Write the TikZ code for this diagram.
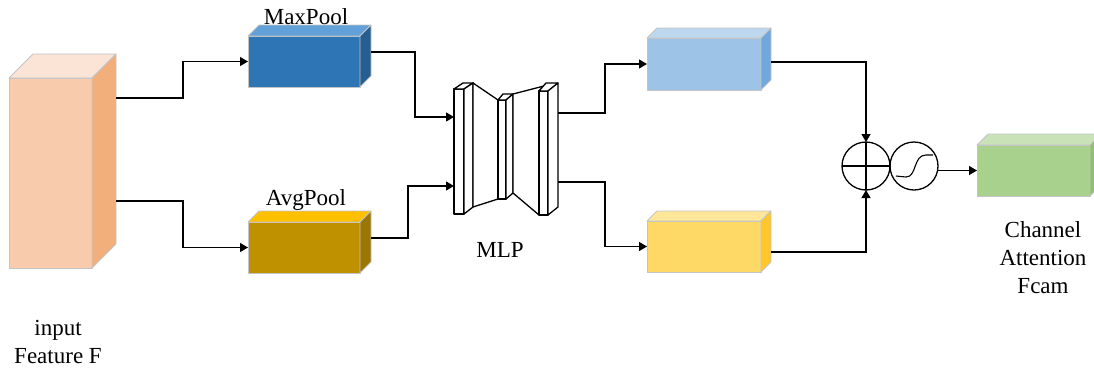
\documentclass[tikz,border=0pt]{standalone}
\usepackage{fontspec}
\setmainfont{Liberation Serif}
\usetikzlibrary{calc,arrows.meta}

\definecolor{inFront}{HTML}{F8CBAD}
\definecolor{inTop}{HTML}{FBE3D6}
\definecolor{inSide}{HTML}{F2AF7C}
\definecolor{mxFront}{HTML}{2E75B6}
\definecolor{mxTop}{HTML}{62A0D8}
\definecolor{mxSide}{HTML}{255E91}
\definecolor{avFront}{HTML}{BF9000}
\definecolor{avTop}{HTML}{FFC000}
\definecolor{avSide}{HTML}{9C7600}
\definecolor{buFront}{HTML}{9DC3E6}
\definecolor{buTop}{HTML}{BDD7EE}
\definecolor{buSide}{HTML}{70A7DC}
\definecolor{yeFront}{HTML}{FFD966}
\definecolor{yeTop}{HTML}{FFE699}
\definecolor{yeSide}{HTML}{FFC72C}
\definecolor{grFront}{HTML}{A9D18E}
\definecolor{grTop}{HTML}{C9E2B8}
\definecolor{grSide}{HTML}{8FC06F}
\definecolor{edge}{HTML}{C4C4C4}

\tikzset{
  face/.style={draw=edge, line width=0.9pt, line join=round},
  boxfront/.style={face, inner sep=0pt, outer sep=0pt},
  arr/.style={line width=1.3pt, -{Triangle[length=8pt,width=9pt]}},
  wire/.style={line width=1.3pt},
  slab/.style={draw=black, fill=white, line width=1.3pt, line join=round},
  lbl/.style={font=\fontsize{23}{28}\selectfont, inner sep=0pt, align=center},
}

% cuboid: name, centre x, centre y, width, height, depth, front, top, side
\newcommand\cuboid[9]{%
  \node[boxfront, fill=#7, minimum width=#4pt, minimum height=#5pt] (#1) at (#2,#3) {};
  \filldraw[face, fill=#8] (#1.north west) -- ++(#6,-#6) -- ($(#1.north east)+(#6,-#6)$) -- (#1.north east) -- cycle;
  \filldraw[face, fill=#9] (#1.north east) -- ++(#6,-#6) -- ($(#1.south east)+(#6,-#6)$) -- (#1.south east) -- cycle;
  \coordinate (#1-side) at ($(#1.east)+(#6,0)$);
}

\begin{document}
\begin{tikzpicture}[x=1pt,y=-1pt]
\useasboundingbox (0,0) rectangle (1094,373);

% feature cuboids
\cuboid{in}{50.5}{173}{83}{190}{24}{inFront}{inTop}{inSide}
\cuboid{mx}{304}{61.5}{112}{51}{11}{mxFront}{mxTop}{mxSide}
\cuboid{av}{304}{247.5}{112}{51}{11}{avFront}{avTop}{avSide}
\cuboid{bu}{704}{64}{114}{52}{10}{buFront}{buTop}{buSide}
\cuboid{ye}{704}{246.5}{114}{51}{10}{yeFront}{yeTop}{yeSide}
\cuboid{gr}{1033.5}{170.5}{113}{51}{11}{grFront}{grTop}{grSide}

% shared MLP
\node[slab, minimum width=10pt, minimum height=125pt, inner sep=0pt, outer sep=0pt] (m1) at (459,151.5) {};
\filldraw[slab] (454,89) -- (463,83) -- (473,83) -- (464,89) -- cycle;
\filldraw[slab] (464,89) -- (473,83) -- (473,207) -- (464,214) -- cycle;
\filldraw[slab] (473,83) -- (498,100) -- (498,199) -- (473,207) -- cycle;
\node[slab, minimum width=8pt, minimum height=99pt, inner sep=0pt, outer sep=0pt] (m2) at (502,149.5) {};
\filldraw[slab] (498,100) -- (503,94) -- (513,94) -- (506,100) -- cycle;
\filldraw[slab] (506,100) -- (513,94) -- (513,193) -- (506,199) -- cycle;
\filldraw[slab] (513,94) -- (544,86) -- (539,91) -- (539,215) -- (513,193) -- cycle;
\node[slab, minimum width=9pt, minimum height=124pt, inner sep=0pt, outer sep=0pt] (m3) at (543.5,153) {};
\filldraw[slab] (539,91) -- (546,83) -- (558,83) -- (548,91) -- cycle;
\filldraw[slab] (548,91) -- (558,83) -- (558,207) -- (548,215) -- cycle;
\coordinate (m3-side) at (558,153);

% add and sigmoid
\node[draw, circle, line width=1.3pt, minimum size=48pt, inner sep=0pt, outer sep=0pt] (add) at (866,166) {};
\node[draw, circle, line width=1.3pt, minimum size=48pt, inner sep=0pt, outer sep=0pt] (sig) at (914,166) {};
\draw[wire] (add.west) -- (add.east);
\draw[wire] (add.north) -- (add.south);
\draw[line width=1.1pt] (896,176) -- (906,177) .. controls (917,177) and (913,155) .. (926,155) -- (933,155);

% connectors
\draw[arr] (in-side |- 0,98) -- (183,98) |- (mx.west);
\draw[arr] (in-side |- 0,201) -- (183,201) |- (av.west);
\draw[arr] (mx-side |- 0,52) -- (415,52) |- (m1.west |- 0,117);
\draw[arr] (av-side |- 0,238) -- (408,238) |- (m1.west |- 0,186);
\draw[arr] (m3-side |- 0,113) -- (605,113) |- (bu.west);
\draw[arr] (m3-side |- 0,182) -- (605,182) |- (ye.west);
\draw[arr] (bu-side |- 0,62) -| (add.north);
\draw[arr] (ye-side |- 0,252) -| (add.south);
\draw[arr] (sig.east |- gr.west) -- (gr.west);

% labels
\node[lbl] (tmx) at (306,17) {MaxPool};
\node[lbl] (tav) at (306,200) {AvgPool};
\node[lbl] (tmlp) at (500,250) {MLP};
\node[lbl] (tin) at (58,342) {input\\Feature F};
\node[lbl] (tca) at (1043,258) {Channel\\Attention\\Fcam};
\end{tikzpicture}
\end{document}
